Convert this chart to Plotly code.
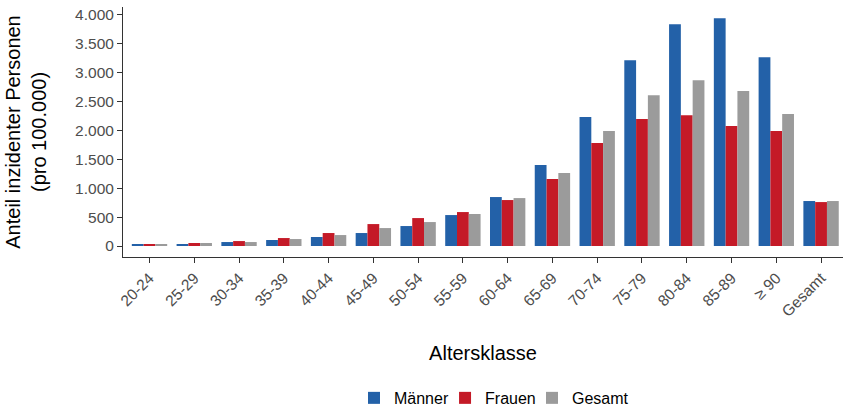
import plotly.graph_objects as go

categories = ["20-24", "25-29", "30-34", "35-39", "40-44", "45-49", "50-54", "55-59",
              "60-64", "65-69", "70-74", "75-79", "80-84", "85-89", "≥ 90", "Gesamt"]
maenner = [35, 35, 69, 104, 156, 225, 346, 536, 848, 1401, 2232, 3218, 3841, 3944, 3270, 779]
frauen = [35, 52, 86, 138, 225, 380, 484, 588, 796, 1159, 1782, 2197, 2266, 2076, 1990, 761]
gesamt = [35, 52, 69, 121, 190, 311, 415, 554, 830, 1263, 1990, 2612, 2872, 2682, 2284, 779]

series = [("Männer", maenner, "#2361A8", "legend"),
          ("Frauen", frauen, "#C41A27", "legend2"),
          ("Gesamt", gesamt, "#9B9B9B", "legend3")]

fig = go.Figure()
for name, vals, col, leg in series:
    fig.add_trace(go.Bar(x=categories, y=vals, name=name, legend=leg,
                         marker=dict(color=col, line=dict(width=0))))

font = "Liberation Sans, Arial, sans-serif"
legend_font = dict(size=16, color="#000000")
legend_x = [0.4194, 0.5273, 0.6303]


def legend_cfg(x):
    return dict(orientation="h", xref="container", yref="container",
                x=x, xanchor="left", y=0.027, yanchor="middle",
                font=legend_font, itemwidth=30, bgcolor="rgba(0,0,0,0)")


fig.update_layout(
    width=844, height=409,
    margin=dict(l=123, r=1, t=7, b=152),
    plot_bgcolor="white", paper_bgcolor="white",
    barmode="group", bargap=0.21, bargroupgap=0,
    separators=",.",
    font=dict(family=font, size=15.5, color="#4d4d4d"),
    showlegend=True,
    legend=legend_cfg(legend_x[0]),
    legend2=legend_cfg(legend_x[1]),
    legend3=legend_cfg(legend_x[2]),
    xaxis=dict(
        range=[-0.592, 15.49], showline=True, linecolor="#333333", linewidth=1,
        ticks="outside", ticklen=5, tickcolor="#333333", tickangle=-45,
        showgrid=False, zeroline=False, automargin=False,
        tickfont=dict(size=15.5, color="#4d4d4d"),
        title=dict(text="Altersklasse", font=dict(size=20, color="#000000"), standoff=27),
    ),
    yaxis=dict(
        range=[-190, 4138], showline=True, linecolor="#333333", linewidth=1,
        ticks="outside", ticklen=5, tickcolor="#333333",
        tickvals=[0, 500, 1000, 1500, 2000, 2500, 3000, 3500, 4000],
        tickformat=",d", showgrid=False, zeroline=False, automargin=False,
        tickfont=dict(size=15.5, color="#4d4d4d"),
        title=dict(text="Anteil inzidenter Personen<br>(pro 100.000)", font=dict(size=20, color="#000000"), standoff=23),
    ),
)

fig.write_html("out.html", config={"displayModeBar": False},
               post_script="document.body.style.margin='0';document.body.style.padding='0';")
